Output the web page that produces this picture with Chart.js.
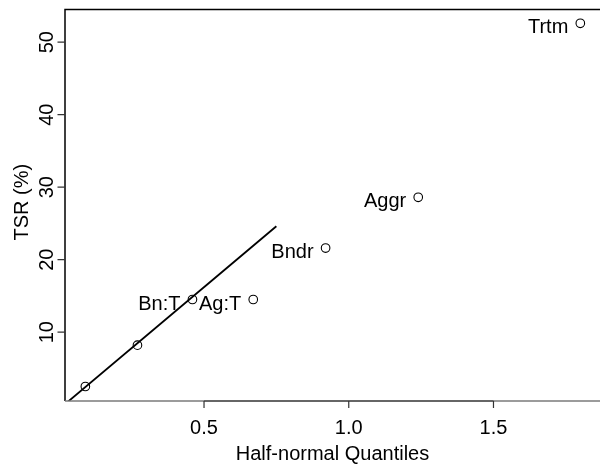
<!DOCTYPE html>
<html>
<head>
<meta charset="utf-8">
<script src="https://cdn.jsdelivr.net/npm/chart.js@4/dist/chart.umd.min.js"></script>
<style>
  html, body { margin: 0; padding: 0; background: #fff; }
  #wrap { width: 600px; height: 468px; }
</style>
</head>
<body>
<div id="wrap"><canvas id="chart" width="600" height="468"></canvas></div>
<script>
// effect names, half-normal quantiles and TSR values
const effectLabels = ['', '', 'Bn:T', 'Ag:T', 'Bndr', 'Aggr', 'Trtm'];
const quantiles = [0.09, 0.27, 0.46, 0.67, 0.92, 1.24, 1.80];
const tsr = [2.5, 8.2, 14.5, 14.5, 21.6, 28.6, 52.6];

// reference line through the small effects
const fitX = [0, 0.75];
const fitY = [-0.6, 24.6];

// axis ticks
const xTicks = [0.5, 1.0, 1.5];
const yTicks = [10, 20, 30, 40, 50];

const FONT = '20px "Liberation Sans", Arial, sans-serif';

// R-style axes, tick labels, titles and point labels
const rAxes = {
    id: 'rAxes',
    afterDatasetsDraw(chart) {
        const ctx = chart.ctx;
        const area = chart.chartArea;
        const xs = chart.scales.x;
        const ys = chart.scales.y;
        ctx.save();

        // box: top and left black, bottom grey
        ctx.strokeStyle = '#000';
        ctx.lineWidth = 1.5;
        ctx.beginPath();
        ctx.moveTo(area.left, area.bottom);
        ctx.lineTo(area.left, area.top);
        ctx.lineTo(area.right, area.top);
        ctx.stroke();
        ctx.strokeStyle = '#7a7a7a';
        ctx.lineWidth = 1.5;
        ctx.beginPath();
        ctx.moveTo(area.left, area.bottom);
        ctx.lineTo(area.right, area.bottom);
        ctx.stroke();

        // x axis line + ticks
        ctx.strokeStyle = '#333';
        ctx.lineWidth = 1.2;
        ctx.beginPath();
        ctx.moveTo(xs.getPixelForValue(xTicks[0]), area.bottom);
        ctx.lineTo(xs.getPixelForValue(xTicks[xTicks.length - 1]), area.bottom);
        xTicks.forEach(v => {
            const px = xs.getPixelForValue(v);
            ctx.moveTo(px, area.bottom);
            ctx.lineTo(px, area.bottom + 7);
        });
        ctx.stroke();

        // y ticks
        ctx.beginPath();
        yTicks.forEach(v => {
            const py = ys.getPixelForValue(v);
            ctx.moveTo(area.left, py);
            ctx.lineTo(area.left - 7.5, py);
        });
        ctx.stroke();

        ctx.fillStyle = '#000';
        ctx.font = FONT;

        // x tick labels
        ctx.textAlign = 'center';
        ctx.textBaseline = 'alphabetic';
        xTicks.forEach(v => {
            ctx.fillText(v.toFixed(1), xs.getPixelForValue(v), 434);
        });

        // x title
        ctx.fillText('Half-normal Quantiles', (area.left + area.right) / 2, 460);

        // y tick labels (rotated)
        yTicks.forEach(v => {
            ctx.save();
            ctx.translate(53.3, ys.getPixelForValue(v));
            ctx.rotate(-Math.PI / 2);
            ctx.textAlign = 'center';
            ctx.fillText(String(v), 0, 0);
            ctx.restore();
        });

        // y title
        ctx.save();
        ctx.translate(28.3, (area.top + area.bottom) / 2 - 3);
        ctx.rotate(-Math.PI / 2);
        ctx.textAlign = 'center';
        ctx.fillText('TSR (%)', 0, 0);
        ctx.restore();

        // point labels to the left of the points
        ctx.textAlign = 'right';
        effectLabels.forEach((lab, i) => {
            if (!lab) return;
            const px = xs.getPixelForValue(quantiles[i]);
            const py = ys.getPixelForValue(tsr[i]);
            ctx.fillText(lab, px - 12, py + 10);
        });

        ctx.restore();
    }
};

new Chart(document.getElementById('chart'), {
    type: 'scatter',
    data: {
        datasets: [{
            label: 'effects',
            data: quantiles.map((q, i) => ({x: q, y: tsr[i]})),
            pointStyle: 'circle',
            pointRadius: 4.3,
            pointBorderWidth: 1.1,
            pointBorderColor: '#000',
            pointBackgroundColor: 'rgba(0,0,0,0)',
            showLine: false
        }, {
            label: 'fit',
            data: fitX.map((x, i) => ({x: x, y: fitY[i]})),
            showLine: true,
            borderColor: '#000',
            borderWidth: 1.8,
            pointRadius: 0,
            fill: false,
            clip: 0
        }]
    },
    options: {
        responsive: false,
        animation: false,
        events: [],
        layout: { autoPadding: false, padding: { left: 65, right: 0, top: 9.5, bottom: 67 } },
        plugins: {
            legend: { display: false },
            tooltip: { enabled: false }
        },
        scales: {
            x: { type: 'linear', min: 0.0197, max: 1.868, display: false },
            y: { type: 'linear', min: 0.5, max: 54.5, display: false }
        }
    },
    plugins: [rAxes]
});
</script>
</body>
</html>
